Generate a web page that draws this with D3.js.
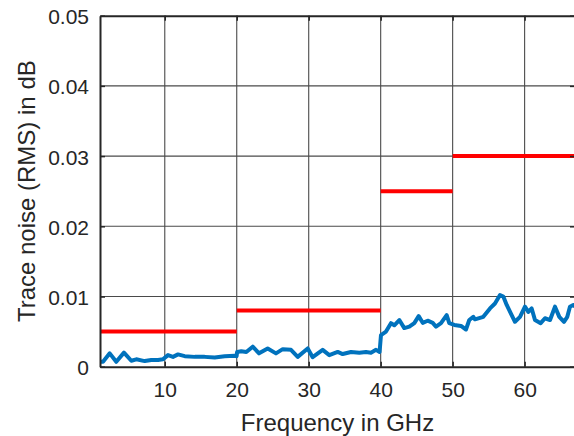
<!DOCTYPE html>
<html>
<head>
<meta charset="utf-8">
<script src="https://cdn.jsdelivr.net/npm/d3@7"></script>
<style>
  html, body { margin: 0; padding: 0; background: #fff; }
  svg { display: block; font-family: "Liberation Sans", Arial, sans-serif; }
</style>
</head>
<body>
<svg id="chart" width="574" height="436"></svg>
<script>
// Measured trace noise (RMS, dB) vs frequency (GHz)
const freqGHz = [1.0, 1.42, 2.35, 3.26, 4.33, 5.35, 6.04, 7.21, 8.13, 9.06, 9.75, 10.45, 11.14, 11.84, 12.77, 14.16, 15.55, 16.94, 18.33, 19.72, 19.98,
  20.05, 20.63, 21.33, 22.22, 23.1, 24.3, 25.45, 26.39, 27.54, 28.47, 29.86, 30.55, 31.94, 32.86, 34.03, 34.72, 35.88, 37.03, 37.96, 38.65, 39.35, 39.85,
  40.04, 40.74, 41.43, 41.89, 42.59, 43.28, 43.98, 44.67, 45.28, 45.84, 46.53, 47.23, 47.69, 48.38, 49.17, 49.53, 50.23, 51.16, 51.85, 52.31, 52.87,
  53.1, 54.26, 55.19, 55.88, 56.58, 57.04, 57.51, 58.2, 58.66, 59.36, 60.05, 60.51, 60.98, 61.44, 62.23, 62.83, 63.53, 64.22, 64.82, 65.47, 65.93, 66.3, 66.76, 67.0];
const noiseDB = [0.0007, 0.0007, 0.0019, 0.0007, 0.0020, 0.00085, 0.00105, 0.0008, 0.00095, 0.00095, 0.00105, 0.00165, 0.0014, 0.00175, 0.0015, 0.0014, 0.0014, 0.0013, 0.0015, 0.00155, 0.0015,
  0.0021, 0.0022, 0.0021, 0.00285, 0.0019, 0.0026, 0.0019, 0.0025, 0.0024, 0.0014, 0.0026, 0.00135, 0.0024, 0.00165, 0.0021, 0.0018, 0.0021, 0.0020, 0.0021, 0.0020, 0.0024, 0.0021,
  0.0045, 0.0050, 0.0062, 0.0059, 0.00665, 0.0055, 0.0057, 0.0062, 0.0072, 0.00625, 0.00655, 0.00625, 0.0057, 0.0062, 0.00735, 0.0062, 0.00595, 0.0058, 0.0053, 0.00665, 0.0071,
  0.00675, 0.0071, 0.0083, 0.0090, 0.0102, 0.0100, 0.0088, 0.00735, 0.0064, 0.0071, 0.00855, 0.0078, 0.0083, 0.00665, 0.0062, 0.0069, 0.00665, 0.00855, 0.0071, 0.0064, 0.0071, 0.00855, 0.0088, 0.0086];

// Specification limits (step segments)
const limitStart = [1, 20, 40, 50];
const limitEnd   = [20, 40, 50, 67];
const limitValue = [0.005, 0.008, 0.025, 0.03];

const xTicks = [10, 20, 30, 40, 50, 60];
const yTicks = [0, 0.01, 0.02, 0.03, 0.04, 0.05];
const xTickLabels = ["10", "20", "30", "40", "50", "60"];
const yTickLabels = ["0", "0.01", "0.02", "0.03", "0.04", "0.05"];

const svg = d3.select("#chart");
const L = 100, R = 575, T = 15.7, B = 366.7;

const x = d3.scaleLinear().domain([1, 67]).range([L, R]);
const y = d3.scaleLinear().domain([0, 0.05]).range([B, T]);

const axisColor = "#262626";

// clip
svg.append("defs").append("clipPath").attr("id", "clip")
  .append("rect").attr("x", L).attr("y", T).attr("width", R - L).attr("height", B - T);

// grid
const grid = svg.append("g");
grid.selectAll("line.vx").data(xTicks).join("line")
  .attr("x1", d => x(d)).attr("x2", d => x(d)).attr("y1", T).attr("y2", B)
  .attr("stroke", "#4a4a4a").attr("stroke-width", 1.1);
grid.selectAll("line.hy").data(yTicks.slice(1, -1)).join("line")
  .attr("x1", L).attr("x2", R).attr("y1", d => y(d)).attr("y2", d => y(d))
  .attr("stroke", "#4a4a4a").attr("stroke-width", 1.1);

// data
const plot = svg.append("g").attr("clip-path", "url(#clip)");
const limits = limitValue.map((v, i) => ({ s: limitStart[i], e: limitEnd[i], v }));
plot.selectAll("line.lim").data(limits).join("line")
  .attr("x1", d => x(d.s)).attr("x2", d => x(d.e))
  .attr("y1", d => y(d.v)).attr("y2", d => y(d.v))
  .attr("stroke", "#ff0000").attr("stroke-width", 4);

const pts = freqGHz.map((f, i) => [f, noiseDB[i]]);
plot.append("path").datum(pts)
  .attr("d", d3.line().x(d => x(d[0])).y(d => y(d[1])))
  .attr("fill", "none").attr("stroke", "#0072bd").attr("stroke-width", 4)
  .attr("stroke-linejoin", "round").attr("stroke-linecap", "round");

// axes
const xAxis = d3.axisBottom(x).tickValues(xTicks).tickFormat((d, i) => xTickLabels[i]).tickSizeInner(-5).tickSizeOuter(0).tickPadding(14);
const gx = svg.append("g").attr("transform", `translate(0,${B})`).call(xAxis);
const yAxis = d3.axisLeft(y).tickValues(yTicks).tickFormat((d, i) => yTickLabels[i]).tickSizeInner(-5).tickSizeOuter(0).tickPadding(11);
const gy = svg.append("g").attr("transform", `translate(${L},0)`).call(yAxis);
const gt = svg.append("g").attr("transform", `translate(0,${T})`)
  .call(d3.axisTop(x).tickValues(xTicks).tickFormat("").tickSizeInner(-5).tickSizeOuter(0));
const gr = svg.append("g").attr("transform", `translate(${R},0)`)
  .call(d3.axisRight(y).tickValues(yTicks).tickFormat("").tickSizeInner(-5).tickSizeOuter(0));

[gx, gy, gt, gr].forEach(g => {
  g.select(".domain").attr("stroke", axisColor).attr("stroke-width", 2);
  g.selectAll(".tick line").attr("stroke", axisColor).attr("stroke-width", 1.5);
  g.selectAll(".tick text").attr("fill", axisColor).attr("font-size", 21)
    .attr("font-family", "'Liberation Sans', Arial, sans-serif");
});
gx.selectAll(".tick text").attr("dy", null).attr("y", 30.5);
gy.selectAll(".tick text").attr("dy", null).attr("dominant-baseline", "auto").attr("y", 8);

// labels
svg.append("text").attr("x", (L + R) / 2).attr("y", 431)
  .attr("text-anchor", "middle").attr("font-size", 24).attr("fill", axisColor)
  .text("Frequency in GHz");
svg.append("text").attr("transform", `translate(35,${(T + B) / 2}) rotate(-90)`)
  .attr("text-anchor", "middle").attr("font-size", 24).attr("fill", axisColor)
  .text("Trace noise (RMS) in dB");
</script>
</body>
</html>
